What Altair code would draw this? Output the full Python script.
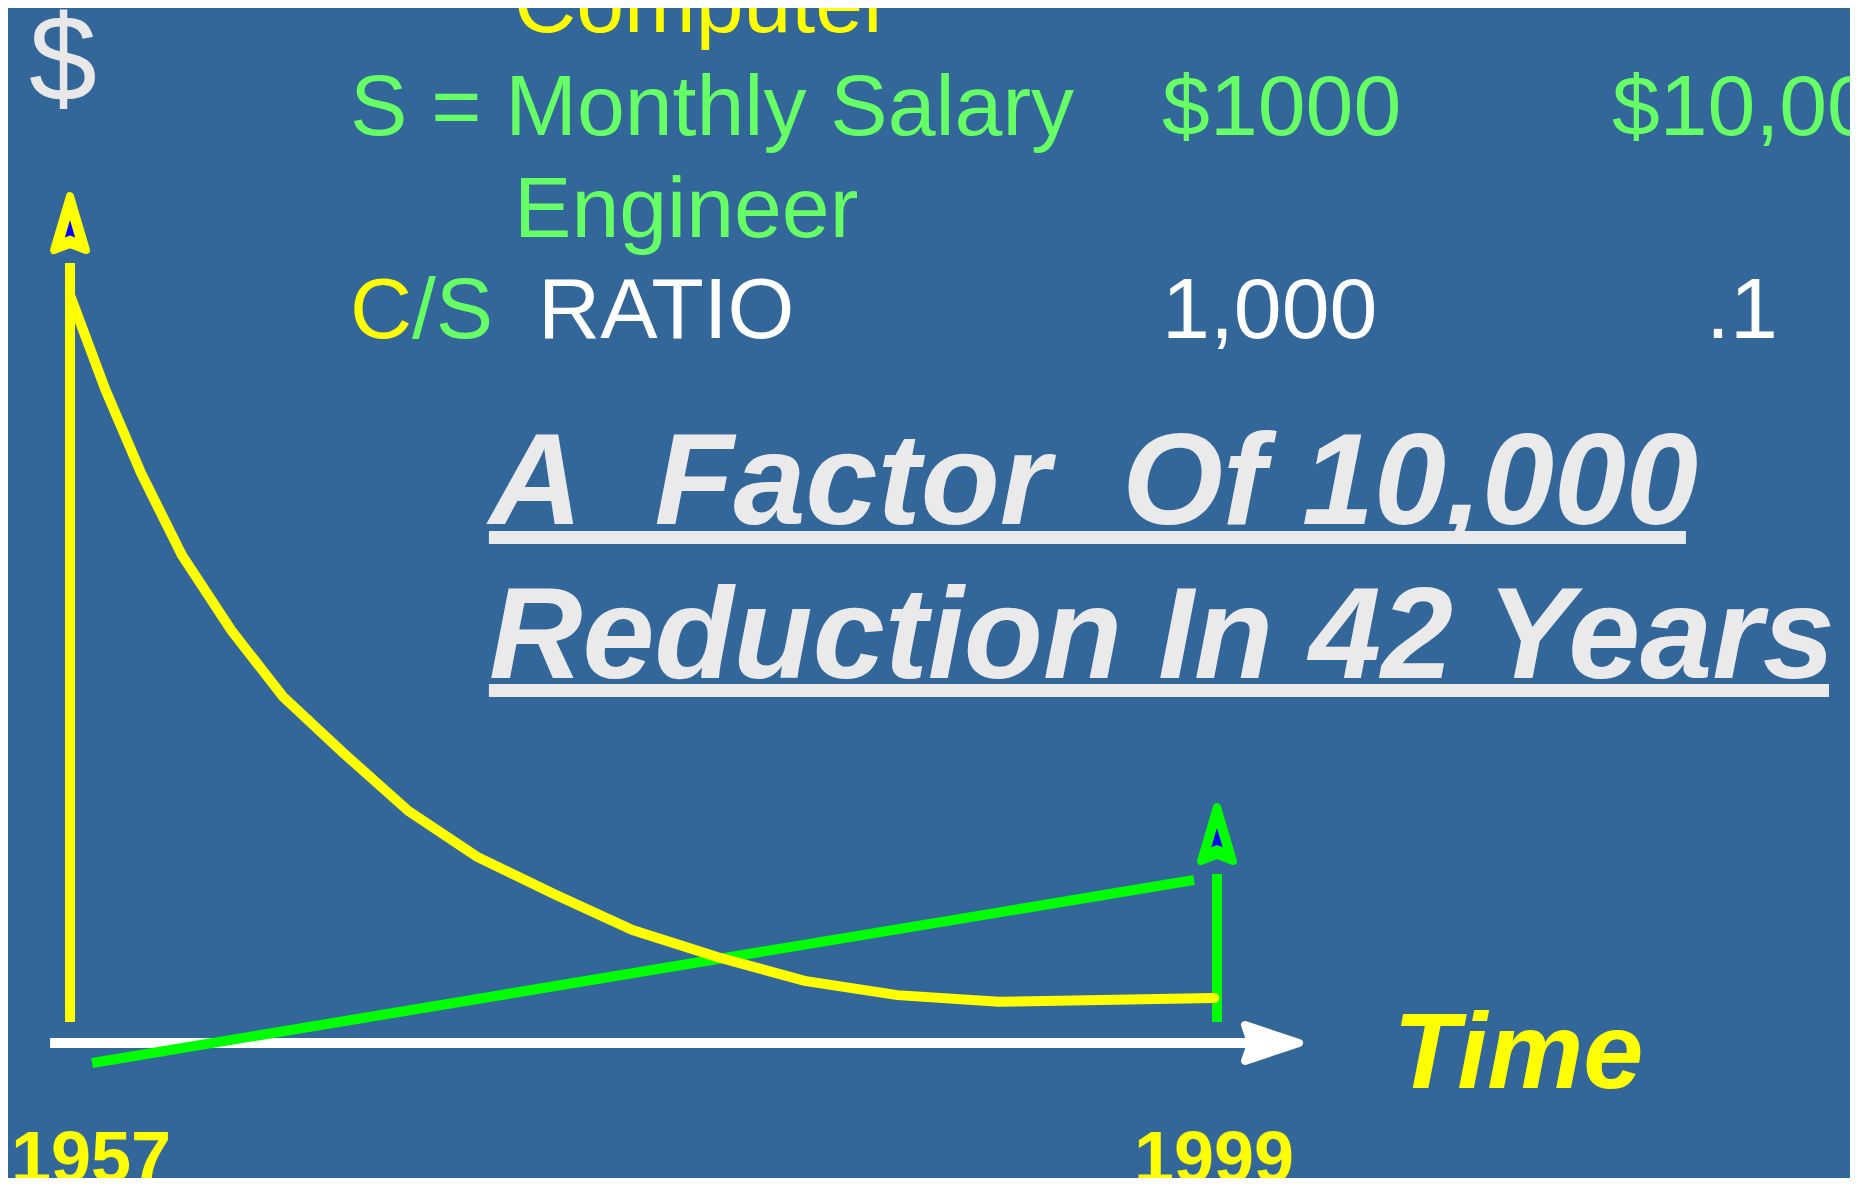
import altair as alt
import pandas as pd

# ---------------- data (x in years, y in "C/S ratio" units) ----------------
curve_years = [1957.0, 1958.3, 1959.6, 1961.1, 1962.9, 1964.8, 1967.0, 1969.4,
               1971.9, 1974.8, 1977.6, 1980.7, 1983.9, 1987.3, 1991.0, 1998.9]
curve_ratio = [1000, 873, 762, 652, 552, 463, 388, 310,
               249, 198, 151, 115, 83, 64, 55, 60]

salary_years = [1957.81, 1998.16]
salary_vals = [-26.7, 217.9]

# axes / underline rules
rule_x = [1957.0, 1999.0, 1956.27, 1972.34, 1972.34, salary_years[0]]
rule_x2 = [1957.0, 1999.0, 2000.65, 2016.17, 2021.41, salary_years[1]]
rule_y = [28.1, 28.1, 0.0, 675.8, 471.3, salary_vals[0]]
rule_y2 = [1042.8, 225.9, 0.0, 675.8, 471.3, salary_vals[1]]
rule_color = ["#ffff00", "#00ff00", "#ffffff", "#eaeaea", "#eaeaea", "#00ff00"]
rule_width = [10, 10, 10, 13, 13, 10]

# arrow heads
UP = "M0,-1L0.57,0.93L0,0.71L-0.57,0.93Z"
RIGHT = "M1,0L-0.93,0.64L-0.71,0L-0.93,-0.64Z"
head_x = [1957.0, 1957.0, 1999.0, 1999.0, 2000.98]
head_y = [1094.9, 1088.2, 278.1, 274.1, 0.0]
head_shape = [UP, UP, UP, UP, RIGHT]
head_size = [3136, 324, 3136, 400, 3136]
head_fill = ["#ffff00", "#0000ff", "#00ff00", "#0000ff", "#ffffff"]
head_stroke = ["#ffff00", "#0000ff", "#00ff00", "#0000ff", "#ffffff"]
head_sw = [8, 0, 8, 0, 8]

# regular table texts
tbl_text = ["Computer", "S = Monthly Salary", "$1000", "$10,000", "Engineer",
            "C", "/S", "RATIO", "1,000", ".1"]
tbl_x = [1973.26, 1967.25, 1996.99, 2013.46, 1973.26,
         1967.25, 1969.52, 1974.14, 1996.99, 2016.91]
tbl_y = [1351.6, 1213.9, 1213.9, 1213.9, 1077.5,
         942.5, 942.5, 942.5, 942.5, 942.5]
tbl_color = ["#ffff00", "#66ff66", "#66ff66", "#66ff66", "#66ff66",
             "#ffff00", "#66ff66", "#ffffff", "#ffffff", "#ffffff"]

title_text = ["A\u00a0 Factor\u00a0 Of 10,000", "Reduction In 42 Years"]
title_x = [1972.34, 1972.34]
title_y = [693.9, 488.0]

year_text = ["1957", "1999"]
year_x = [1957.77, 1998.89]
year_y = [-185.8, -185.8]

dollar_text = ["$"]
dollar_x = [1955.50]
dollar_y = [1259.4]

time_text = ["Time"]
time_x = [2005.45]
time_y = [-60.2]

# ---------------- scales ----------------
W, H = 1842, 1170
PPY = (1217 - 70) / 42.0      # pixels per year
PPU = 0.748                   # pixels per ratio unit
xdom = [1957 + (8 - 70) / PPY, 1957 + (8 + W - 70) / PPY]
ydom = [(1043 - 8 - H) / PPU, (1043 - 8) / PPU]
xs = alt.Scale(domain=xdom, nice=False, zero=False)
ys = alt.Scale(domain=ydom, nice=False, zero=False)
FONT = "Liberation Sans, Arial, sans-serif"

rules = pd.DataFrame(dict(x=rule_x, x2=rule_x2, y=rule_y, y2=rule_y2,
                          c=rule_color, w=rule_width))
curve = pd.DataFrame(dict(x=curve_years, y=curve_ratio, o=list(range(len(curve_years)))))
heads = pd.DataFrame(dict(x=head_x, y=head_y, s=head_shape, z=head_size,
                          f=head_fill, sc=head_stroke, sw=head_sw, o=list(range(5))))
tbl = pd.DataFrame(dict(x=tbl_x, y=tbl_y, t=tbl_text, c=tbl_color))
ttl = pd.DataFrame(dict(x=title_x, y=title_y, t=title_text))
yrs = pd.DataFrame(dict(x=year_x, y=year_y, t=year_text))
dol = pd.DataFrame(dict(x=dollar_x, y=dollar_y, t=dollar_text))
tim = pd.DataFrame(dict(x=time_x, y=time_y, t=time_text))

X = alt.X("x:Q", scale=xs, axis=None)
Y = alt.Y("y:Q", scale=ys, axis=None)

rule_layer = alt.Chart(rules).mark_rule(strokeCap="butt").encode(
    x=X, x2="x2:Q", y=Y, y2="y2:Q",
    color=alt.Color("c:N", scale=None),
    strokeWidth=alt.StrokeWidth("w:Q", scale=None))

curve_layer = alt.Chart(curve).mark_line(
    color="#ffff00", strokeWidth=10, strokeCap="round").encode(
    x=X, y=Y, order="o:Q")

head_layer = alt.Chart(heads).mark_point(
    filled=True, opacity=1, strokeJoin="round").encode(
    x=X, y=Y,
    shape=alt.Shape("s:N", scale=None),
    size=alt.Size("z:Q", scale=None),
    fill=alt.Fill("f:N", scale=None),
    stroke=alt.Stroke("sc:N", scale=None),
    strokeWidth=alt.StrokeWidth("sw:Q", scale=None),
    order="o:Q")

tbl_layer = alt.Chart(tbl).mark_text(
    font=FONT, fontSize=86, align="left", baseline="alphabetic").encode(
    x=X, y=Y, text="t:N", color=alt.Color("c:N", scale=None))

title_layer = alt.Chart(ttl).mark_text(
    font=FONT, fontSize=129.5, fontWeight="bold", fontStyle="italic",
    align="left", baseline="alphabetic", color="#eaeaea").encode(
    x=X, y=Y, text="t:N")

year_layer = alt.Chart(yrs).mark_text(
    font=FONT, fontSize=72, fontWeight="bold",
    align="center", baseline="alphabetic", color="#ffff00").encode(
    x=X, y=Y, text="t:N")

dollar_layer = alt.Chart(dol).mark_text(
    font=FONT, fontSize=122, align="left", baseline="alphabetic",
    color="#e8e8e8").encode(x=X, y=Y, text="t:N")

time_layer = alt.Chart(tim).mark_text(
    font=FONT, fontSize=108, fontWeight="bold", fontStyle="italic",
    align="left", baseline="alphabetic", color="#ffff00").encode(
    x=X, y=Y, text="t:N")

chart = alt.layer(
    rule_layer, curve_layer, head_layer, tbl_layer, title_layer,
    year_layer, dollar_layer, time_layer
).properties(
    width=W, height=H, background="#336699", padding=0,
    autosize=alt.AutoSizeParams(type="none")
).configure_view(stroke=None)

chart.save("out.html", embed_options={"renderer": "svg", "actions": False})
